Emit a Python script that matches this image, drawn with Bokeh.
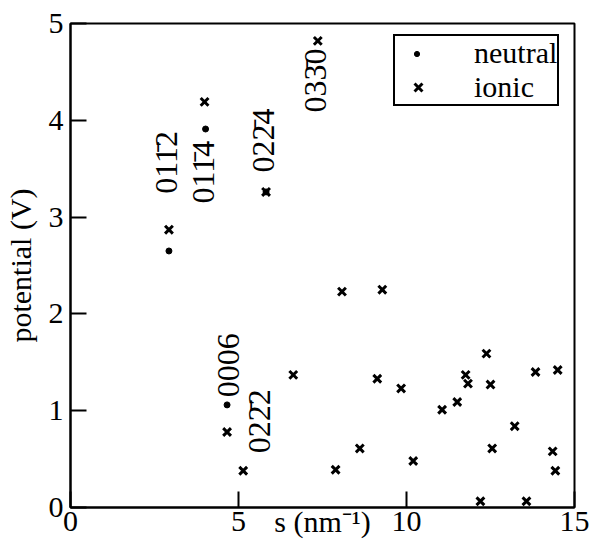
from math import pi
from bokeh.plotting import figure
from bokeh.models import Range1d, FixedTicker, Legend, LegendItem
from bokeh.core.properties import value
from bokeh.embed import file_html
from bokeh.resources import INLINE

FONT = "Liberation Serif"

# neutral points: s (nm^-1), potential (V)
neutral_s = [2.93, 4.02, 5.82, 4.66]
neutral_v = [2.65, 3.91, 3.26, 1.06]

# ionic points
ionic_s = [2.93, 3.99, 5.82, 7.36, 4.66, 5.14, 6.63, 8.08, 9.28, 9.13, 9.84,
           11.06, 11.51, 11.76, 11.83, 12.38, 12.50, 13.84, 14.50, 13.22, 8.61,
           7.89, 10.20, 12.55, 14.35, 14.43, 12.20, 13.57]
ionic_v = [2.87, 4.19, 3.26, 4.82, 0.78, 0.38, 1.37, 2.23, 2.25, 1.33, 1.23,
           1.01, 1.09, 1.37, 1.28, 1.59, 1.27, 1.40, 1.42, 0.84, 0.61,
           0.39, 0.48, 0.61, 0.58, 0.38, 0.065, 0.065]

# reflection labels (anchored at the bottom end of the rotated text)
label_text = ["01\u0031\u03042", "01\u0031\u03044", "02\u0032\u03044",
              "03\u0033\u03040", "0006", "02\u0032\u03042"]
label_s = [2.85, 3.93, 5.74, 7.29, 4.70, 5.60]
label_v = [3.24, 3.14, 3.46, 4.08, 1.14, 0.56]

x_ticks = [0, 5, 10, 15]
y_ticks = [0, 1, 2, 3, 4, 5]

p = figure(width=590, height=548, output_backend="svg", toolbar_location=None,
           x_range=Range1d(0, 15), y_range=Range1d(0, 5),
           min_border_left=70, min_border_right=16, min_border_top=23,
           min_border_bottom=41)
p.background_fill_color = "white"
p.border_fill_color = "white"
p.xgrid.visible = False
p.ygrid.visible = False
p.outline_line_color = "black"
p.outline_line_width = 2
p.outline_line_alpha = 1.0

p.xaxis.ticker = FixedTicker(ticks=x_ticks)
p.yaxis.ticker = FixedTicker(ticks=y_ticks)
for ax in (p.xaxis[0], p.yaxis[0]):
    ax.major_tick_in = 16
    ax.major_tick_out = 0
    ax.minor_tick_in = 0
    ax.minor_tick_out = 0
    ax.axis_line_width = 2
    ax.axis_line_color = "black"
    ax.major_tick_line_width = 2
    ax.major_tick_line_color = "black"
    ax.major_label_text_font = FONT
    ax.major_label_text_font_size = "30px"
    ax.major_label_text_color = "black"
    ax.axis_label_text_font = FONT
    ax.axis_label_text_font_size = "30px"
    ax.axis_label_text_font_style = "normal"
    ax.axis_label_text_color = "black"

p.xaxis.major_label_standoff = 4
p.xaxis.axis_label = "s (nm\u207b\u00b9)"
p.xaxis.axis_label_standoff = -29
p.yaxis.major_label_standoff = 7
p.yaxis.axis_label = "potential (V)"
p.yaxis.axis_label_standoff = 9

r_neutral = p.scatter(neutral_s, neutral_v, marker="circle", size=6,
                      color="black")
r_ionic = p.scatter(ionic_s, ionic_v, marker="x", size=11, line_width=3,
                    line_color="black")
# placeholder renderer (no data) so the boxed legend keeps a slot for "neutral"
r_blank = p.scatter(x=[], y=[], marker="circle", size=6, fill_alpha=0,
                    line_alpha=0)

p.text(x=label_s, y=label_v, text=label_text, angle=pi / 2,
       text_align="left", text_baseline="middle",
       text_font=value(FONT), text_font_size="32px", text_color="black")

# boxed legend: texts + ionic marker
leg_box = Legend(items=[LegendItem(label="neutral", renderers=[r_blank]),
                        LegendItem(label="ionic", renderers=[r_ionic])],
                 location=(323, 401))
leg_box.border_line_color = "black"
leg_box.border_line_width = 2
leg_box.border_line_alpha = 1.0
leg_box.background_fill_color = "white"
leg_box.background_fill_alpha = 1.0
leg_box.label_text_font = FONT
leg_box.label_text_font_size = "30px"
leg_box.label_text_color = "black"
leg_box.padding = 0
leg_box.spacing = 0
leg_box.margin = 0
leg_box.glyph_width = 46
leg_box.glyph_height = 28
leg_box.label_standoff = 33
leg_box.label_height = 28
p.add_layout(leg_box)

# small dot for the neutral entry (same row as the "neutral" text)
leg_dot = Legend(items=[LegendItem(label=" ", renderers=[r_neutral])],
                 location=(340, 436))
leg_dot.border_line_alpha = 0
leg_dot.background_fill_alpha = 0
leg_dot.label_text_font = FONT
leg_dot.label_text_font_size = "30px"
leg_dot.label_text_alpha = 0
leg_dot.padding = 0
leg_dot.spacing = 0
leg_dot.margin = 0
leg_dot.glyph_width = 13
leg_dot.glyph_height = 35
leg_dot.label_standoff = 0
leg_dot.label_height = 28
p.add_layout(leg_dot)

open("out.html", "w").write(file_html(p, INLINE))
